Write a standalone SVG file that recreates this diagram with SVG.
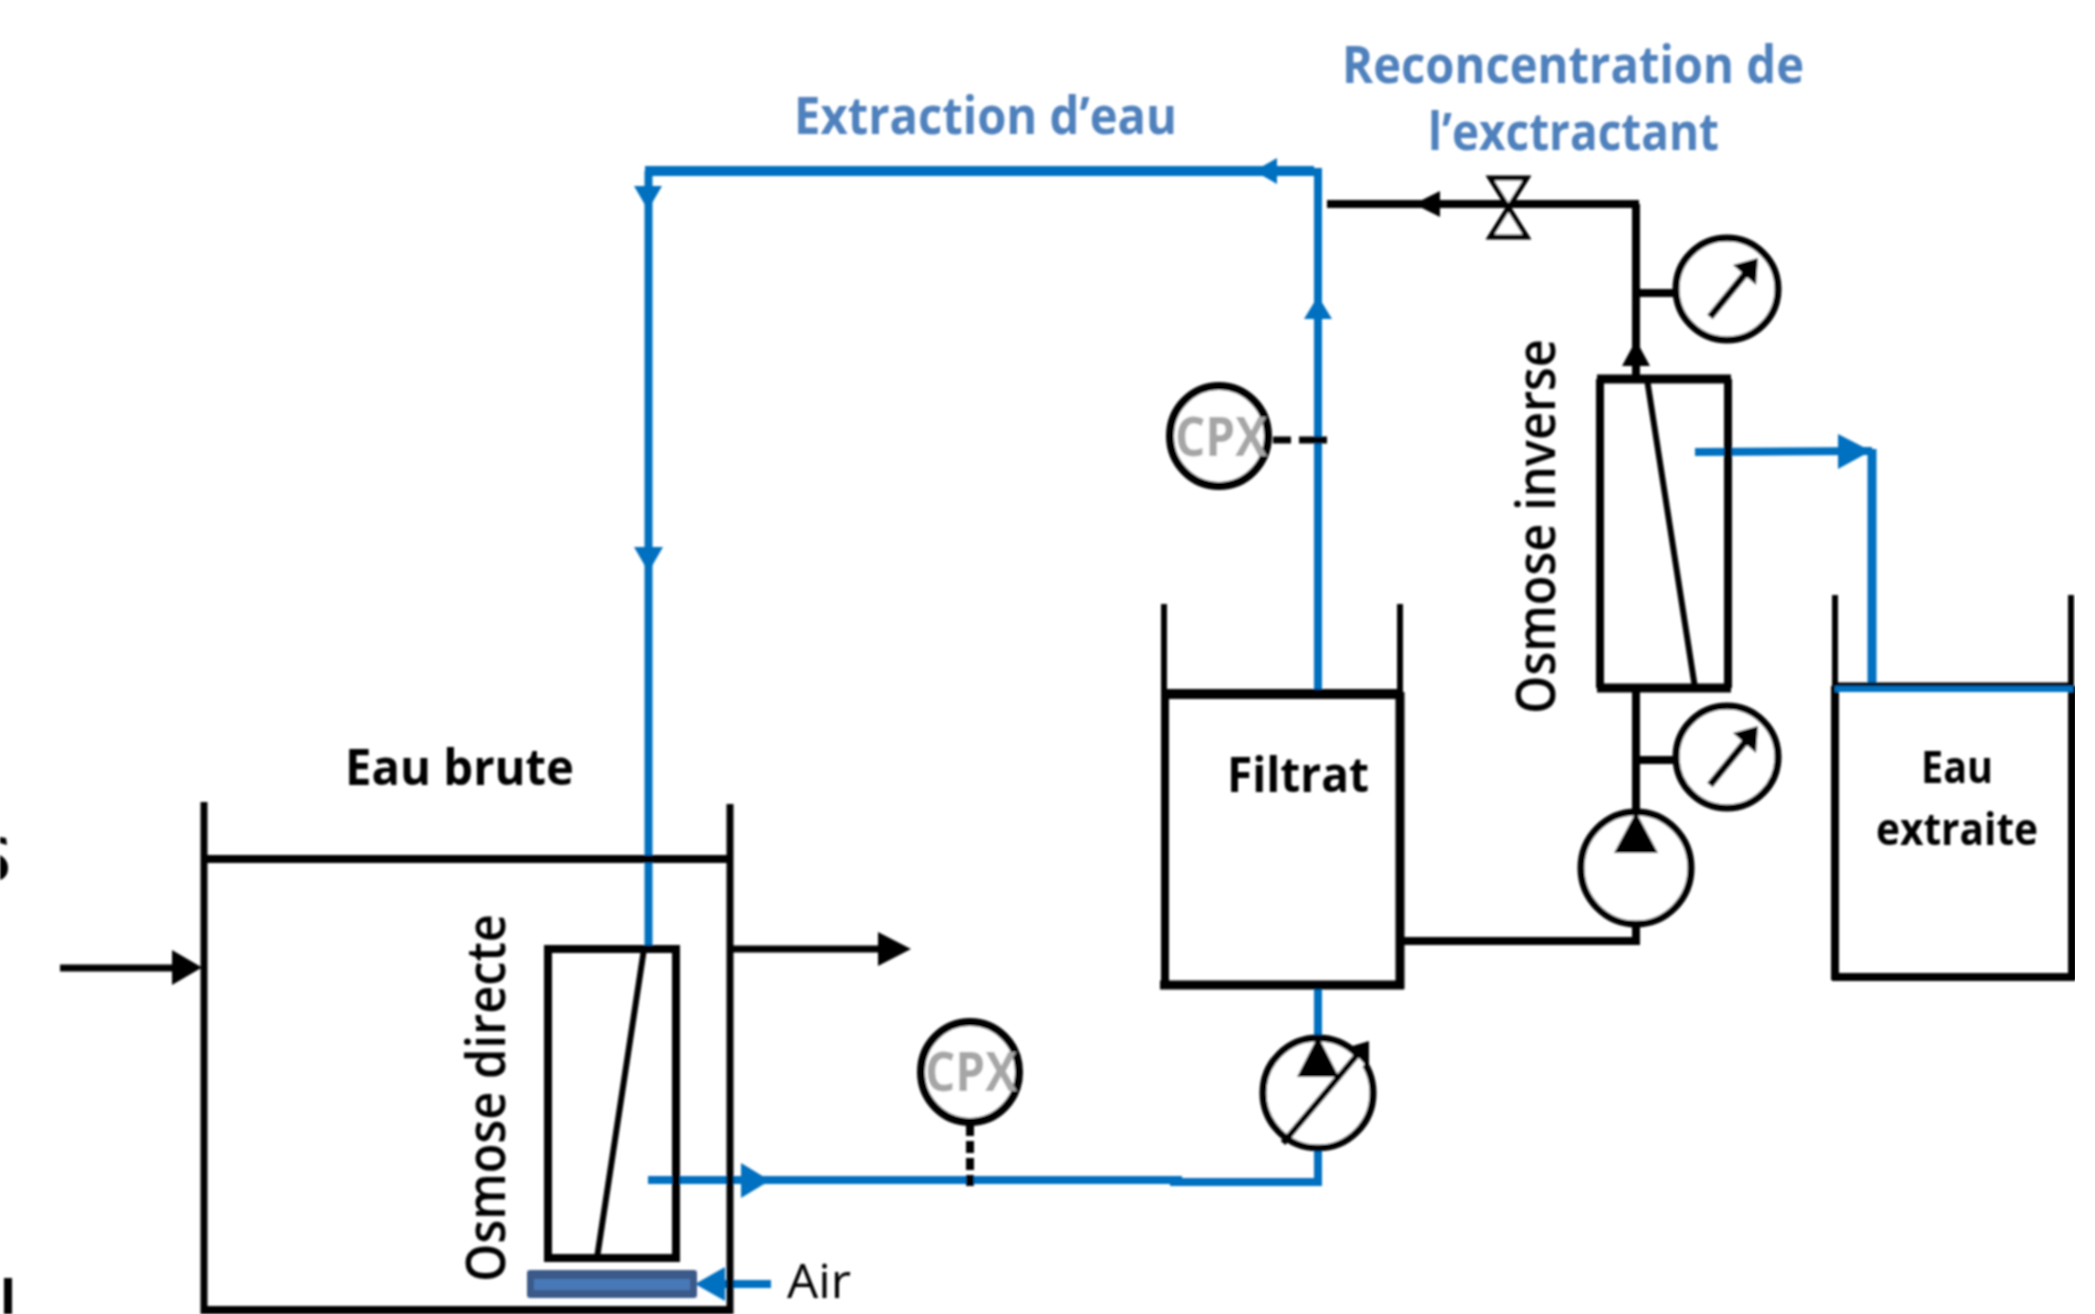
<svg xmlns="http://www.w3.org/2000/svg" width="2095" height="1314" viewBox="0 0 2095 1314">
<defs>
<style>
.k{stroke:#000;fill:none;stroke-linecap:butt}
.b{stroke:#0070c0;fill:none}
.hk{fill:#000}
.hb{fill:#0070c0}
.w{fill:#fff;stroke:#000}
text{font-family:"Open Sans","Noto Sans","Liberation Sans",sans-serif}
.lb{fill:#000;font-weight:700}
.lv{fill:#000;font-weight:600}
.lt{fill:#4f81bd;font-weight:700;font-size:52px}
.cpx{fill:#a6a6a6;font-size:54px;font-weight:700}
</style>
<filter id="soft" x="0" y="0" width="100%" height="100%"><feGaussianBlur stdDeviation="0.8"/></filter>
</defs>
<rect width="2095" height="1314" fill="#fff"/>
<g filter="url(#soft)">
<g id="edge-fragments">
<path d="M0 837L6 838L7 845L0 843Z" class="hk"/>
<path d="M0 855C5 858 8 862 8 868C8 874 5 878 0 880Z" class="hk"/>
<rect x="4" y="1278" width="8" height="36" class="hk"/>
</g>
<g id="connectors">
<path class="b" stroke-width="8" d="M648.500 949V171"/>
<path class="b" stroke-width="10" d="M645 171H1314"/>
<path class="b" stroke-width="8" d="M1318 168V690"/>
<path class="b" stroke-width="8" d="M1318 985V1036M1318 1151V1185"/>
<path class="b" stroke-width="8" d="M1322 1182H1170"/>
<path class="b" stroke-width="8" d="M1182 1180H648"/>
<path class="b" stroke-width="8" d="M1695 452L1872 451"/>
<path class="b" stroke-width="9" d="M1872 449V684"/>
<path class="k" stroke-width="8" d="M1327 204H1639"/>
<path class="k" stroke-width="8" d="M1636 204V376"/>
<path class="k" stroke-width="8" d="M1636 293H1676"/>
<path class="k" stroke-width="8" d="M1636 692V812"/>
<path class="k" stroke-width="8" d="M1636 760H1676"/>
<path class="k" stroke-width="8" d="M1636 924V944"/>
<path class="k" stroke-width="8" d="M1403 941H1640"/>
<path class="k" stroke-width="7" d="M60 968H180"/>
<path class="k" stroke-width="7" d="M733 949H885"/>
<path class="b" stroke-width="8" d="M771 1284H720"/>
<path class="k" stroke-width="7" d="M1273 440H1327" stroke-dasharray="18 8 28 0"/>
<path class="k" stroke-width="8" d="M970 1124V1186" stroke-dasharray="12 5"/>
<polygon class="hk" points="172,950 202,967.500 172,985"/>
<polygon class="hk" points="878,932 911,949 878,966"/>
<polygon class="hb" points="741,1163 770,1180.500 741,1198"/>
<polygon class="hb" points="725,1267 695,1284 725,1301"/>
<polygon class="hb" points="1277,158 1254,171 1277,184"/>
<polygon class="hb" points="634,186 662,186 648,210"/>
<polygon class="hb" points="634,547 663,547 648.500,572"/>
<polygon class="hb" points="1304,319 1318,296 1332,319"/>
<polygon class="hb" points="1838,434 1871,451 1838,469"/>
<polygon class="hk" points="1440,191 1414,204 1440,217"/>
<polygon class="hk" points="1622,366 1636,340 1650,366"/>
</g>
<g id="tank-eau-brute">
<path class="k" stroke-width="7" d="M204 802V1314M730 804V1314"/>
<path class="k" stroke-width="8" d="M201 859H733M201 1310H733"/>
<text class="lb" x="345" y="785" font-size="50" textLength="229" lengthAdjust="spacingAndGlyphs">Eau brute</text>
</g>
<g id="module-osmose-directe">
<rect class="k" x="548" y="949" width="128" height="309" stroke-width="8"/>
<path class="k" stroke-width="6" d="M644 949L597 1258"/>
<text class="lv" transform="translate(505 1282) rotate(-90)" font-size="54" textLength="368" lengthAdjust="spacingAndGlyphs">Osmose directe</text>
</g>
<g id="aerateur">
<rect x="527" y="1270" width="170" height="28" rx="3" fill="#3a5a8a"/>
<rect x="534" y="1279" width="156" height="11" fill="#4a78b8"/>
<text class="lv" style="font-weight:400" x="787" y="1298" font-size="48" textLength="64" lengthAdjust="spacingAndGlyphs">Air</text>
</g>
<g id="tank-filtrat">
<path class="k" stroke-width="6" d="M1164 604V692M1400 604V692"/>
<path class="k" stroke-width="10" d="M1161 694H1403"/>
<path class="k" stroke-width="8" d="M1165 692V988"/>
<path class="k" stroke-width="9" d="M1400 692V989M1160 985H1404"/>
<text class="lb" x="1227" y="792" font-size="48" textLength="142" lengthAdjust="spacingAndGlyphs">Filtrat</text>
</g>
<g id="module-osmose-inverse">
<path class="k" stroke-width="8" d="M1600 379V688M1728 379V688"/>
<path class="k" stroke-width="9" d="M1597 379H1731M1597 688H1731"/>
<path class="k" stroke-width="6" d="M1647 379L1695 688"/>
<text class="lv" transform="translate(1555 714) rotate(-90)" font-size="54" textLength="375" lengthAdjust="spacingAndGlyphs">Osmose inverse</text>
</g>
<g id="tank-eau-extraite">
<path class="k" stroke-width="6" d="M1835 595V686M2071 595V686"/>
<path class="k" stroke-width="8" d="M1835 686V980M2072 686V980M1832 977H2075"/>
<path class="k" stroke-width="5" d="M1835 685H2073"/>
<path class="b" stroke-width="6" d="M1835 689H2073"/>
<text class="lb" x="1921" y="783" font-size="44" textLength="72" lengthAdjust="spacingAndGlyphs">Eau</text>
<text class="lb" x="1876" y="845" font-size="44" textLength="162" lengthAdjust="spacingAndGlyphs">extraite</text>
</g>
<g id="pompe-filtrat">
<ellipse class="w" cx="1318" cy="1093" rx="55" ry="55" stroke-width="7"/>
<polygon class="hk" points="1318,1036 1339,1077 1297,1077"/>
<path class="k" style="stroke:#fff" stroke-width="9" d="M1332 1100L1362 1060"/>
<path class="k" stroke-width="6" d="M1283 1143L1358 1054"/>
<polygon class="hk" points="1349,1047 1369,1041 1369,1069"/>
</g>
<g id="pompe-ro">
<ellipse class="w" cx="1636" cy="868" rx="55" ry="56" stroke-width="7"/>
<polygon class="hk" points="1636,812 1658,853 1614,853"/>
</g>
<g id="manometre-haut">
<ellipse class="w" cx="1727" cy="289" rx="51" ry="51" stroke-width="7"/>
<path class="k" stroke-width="7" d="M1710 317L1750 268"/>
<polygon class="hk" points="1733,265 1758,258 1756,285"/>
</g>
<g id="manometre-bas">
<ellipse class="w" cx="1727" cy="757" rx="51" ry="51" stroke-width="7"/>
<path class="k" stroke-width="7" d="M1710 785L1750 736"/>
<polygon class="hk" points="1733,733 1758,726 1756,753"/>
</g>
<g id="vanne">
<polygon class="w" stroke-width="5" points="1490,178 1527,178 1490,237 1527,237"/>
</g>
<g id="cpx-haut">
<ellipse class="w" cx="1219" cy="436" rx="49" ry="50" stroke-width="8"/>
<text class="cpx" x="1175" y="456" textLength="92" lengthAdjust="spacingAndGlyphs">CPX</text>
</g>
<g id="cpx-bas">
<ellipse class="w" cx="970" cy="1072" rx="49" ry="50" stroke-width="8"/>
<text class="cpx" x="925" y="1091" textLength="92" lengthAdjust="spacingAndGlyphs">CPX</text>
</g>
<g id="titres">
<text class="lt" x="794" y="134" textLength="383" lengthAdjust="spacingAndGlyphs">Extraction d’eau</text>
<text class="lt" x="1342" y="83" textLength="462" lengthAdjust="spacingAndGlyphs">Reconcentration de</text>
<text class="lt" x="1428" y="150" textLength="291" lengthAdjust="spacingAndGlyphs">l’exctractant</text>
</g>
</g>
</svg>
